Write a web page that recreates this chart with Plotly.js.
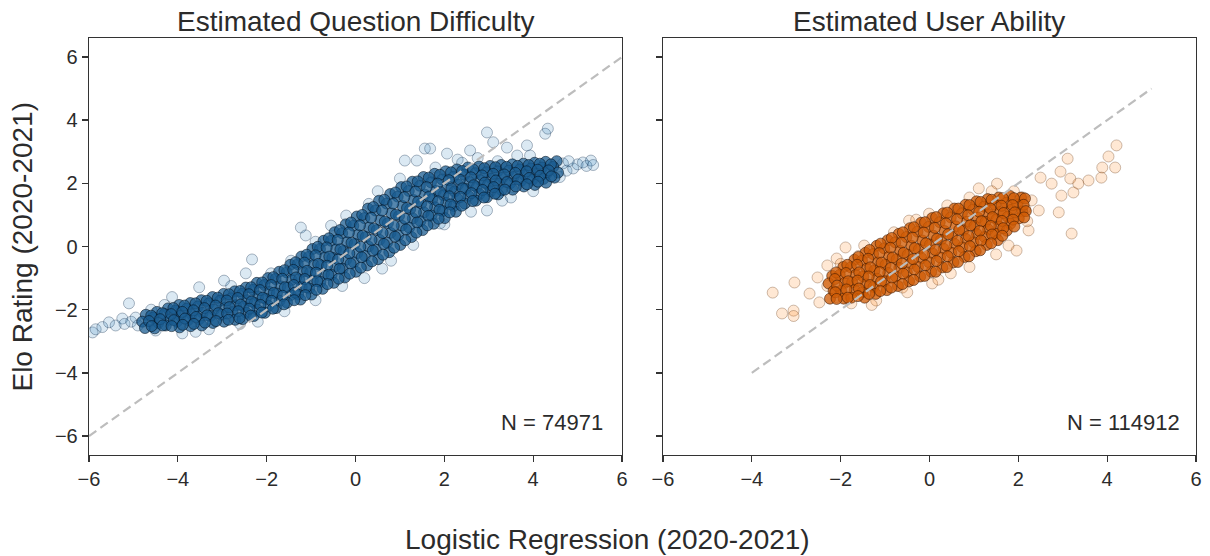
<!DOCTYPE html>
<html>
<head>
<meta charset="utf-8">
<script src="https://cdn.plot.ly/plotly-3.0.1.min.js"></script>
<style>html,body{margin:0;padding:0;background:#fff}#chart{width:1210px;height:556px}</style>
</head>
<body>
<div id="chart"></div>
<script>
// ---- Data ----
var panelTitles = ["Estimated Question Difficulty", "Estimated User Ability"];
var nLabels = ["N = 74971", "N = 114912"];
var xTitle = "Logistic Regression (2020-2021)";
var yTitle = "Elo Rating (2020-2021)";
var tickVals = [-6, -4, -2, 0, 2, 4, 6];

// Question difficulty: dense band (sampled, first set of columns)
var qCoreX = [
 -4.72,-4.8,-4.74,
 -4.47,-4.55,-4.44,-4.52,
 -4.22,-4.3,-4.19,-4.27,
 -3.97,-4.05,-3.94,-4.02,-3.96,
 -3.72,-3.8,-3.69,-3.77,-3.71,
 -3.47,-3.55,-3.44,-3.52,-3.46,
 -3.22,-3.3,-3.19,-3.27,-3.21,
 -2.97,-3.05,-2.94,-3.02,-2.96,
 -2.72,-2.8,-2.69,-2.77,-2.71,
 -2.47,-2.55,-2.44,-2.52,-2.46,-2.54,
 -2.22,-2.3,-2.19,-2.27,-2.21,-2.29,
 -1.97,-2.05,-1.94,-2.02,-1.96,-2.04,
 -1.72,-1.8,-1.69,-1.77,-1.71,-1.79,
 -1.47,-1.55,-1.44,-1.52,-1.46,-1.54,
 -1.22,-1.3,-1.19,-1.27,-1.21,-1.29,-1.24,
 -0.97,-1.05,-0.94,-1.02,-0.96,-1.04,-0.99,
 -0.72,-0.8,-0.69,-0.77,-0.71,-0.79,-0.74,
 -0.47,-0.55,-0.44,-0.52,-0.46,-0.54,-0.49,
 -0.22,-0.3,-0.19,-0.27,-0.21,-0.29,-0.24,
 0.03,-0.05,0.06,-0.02,0.04,-0.04,0.01,
 0.28,0.2,0.31,0.23,0.29,0.21,0.26,
 0.53,0.45,0.56,0.48,0.54,0.46,0.51,
 0.78,0.7,0.81,0.73,0.79,0.71,0.76,
 1.03,0.95,1.06,0.98,1.04,0.96,1.01,
 1.28,1.2,1.31,1.23,1.29,1.21,1.26,
 1.53,1.45,1.56,1.48,1.54,1.46,1.51,
 1.78,1.7,1.81,1.73,1.79,1.71,1.76,
 2.03,1.95,2.06,1.98,2.04,1.96,2.01,
 2.28,2.2,2.31,2.23,2.29,2.21,2.26,
 2.53,2.45,2.56,2.48,2.54,2.46,
 2.78,2.7,2.81,2.73,2.79,2.71,
 3.03,2.95,3.06,2.98,3.04,2.96,
 3.28,3.2,3.31,3.23,3.29,3.21,
 3.53,3.45,3.56,3.48,3.54,
 3.78,3.7,3.81,3.73,3.79,
 4.03,3.95,4.06,3.98,4.04,
 4.28,4.2,4.31,4.23,4.29,
 4.53,4.45,4.56,4.48
];
var qCoreY = [
 -2.16,-2.38,-2.58,
 -2.07,-2.25,-2.42,-2.59,
 -1.96,-2.14,-2.32,-2.5,
 -1.85,-2.03,-2.2,-2.38,-2.56,
 -1.79,-1.97,-2.15,-2.33,-2.52,
 -1.7,-1.9,-2.1,-2.3,-2.5,
 -1.6,-1.8,-2.0,-2.2,-2.42,
 -1.5,-1.72,-1.94,-2.16,-2.38,
 -1.42,-1.64,-1.86,-2.08,-2.32,
 -1.3,-1.5,-1.7,-1.9,-2.1,-2.3,
 -1.15,-1.37,-1.58,-1.79,-2.0,-2.2,
 -1.0,-1.22,-1.44,-1.66,-1.88,-2.1,
 -0.8,-1.03,-1.26,-1.49,-1.72,-1.95,
 -0.58,-0.82,-1.06,-1.3,-1.54,-1.78,
 -0.32,-0.56,-0.8,-1.04,-1.28,-1.52,-1.68,
 -0.08,-0.33,-0.58,-0.83,-1.08,-1.33,-1.52,
 0.18,-0.08,-0.34,-0.6,-0.86,-1.12,-1.34,
 0.45,0.18,-0.09,-0.36,-0.63,-0.9,-1.15,
 0.7,0.42,0.14,-0.14,-0.42,-0.7,-0.98,
 0.95,0.66,0.37,0.08,-0.21,-0.5,-0.8,
 1.2,0.9,0.6,0.3,0.0,-0.3,-0.6,
 1.45,1.14,0.83,0.52,0.21,-0.1,-0.4,
 1.66,1.36,1.05,0.74,0.43,0.12,-0.18,
 1.88,1.58,1.28,0.97,0.66,0.35,0.05,
 2.05,1.76,1.47,1.18,0.89,0.6,0.3,
 2.2,1.92,1.64,1.36,1.08,0.8,0.52,
 2.3,2.03,1.76,1.5,1.24,0.98,0.72,
 2.38,2.12,1.86,1.62,1.38,1.12,0.9,
 2.44,2.2,1.96,1.74,1.52,1.28,1.1,
 2.5,2.27,2.04,1.82,1.6,1.36,
 2.53,2.32,2.1,1.88,1.66,1.45,
 2.55,2.35,2.15,1.95,1.75,1.56,
 2.58,2.38,2.18,1.98,1.78,1.65,
 2.6,2.4,2.2,2.0,1.8,
 2.62,2.44,2.26,2.08,1.9,
 2.65,2.47,2.29,2.11,1.95,
 2.68,2.5,2.32,2.14,2.02,
 2.7,2.52,2.34,2.18
];
// Question difficulty: dense band (sampled, in-between columns)
var qFillX = [
 -4.6,-4.65,-4.59,
 -4.35,-4.4,-4.34,
 -4.1,-4.15,-4.09,-4.14,
 -3.85,-3.9,-3.84,-3.89,
 -3.6,-3.65,-3.59,-3.64,
 -3.35,-3.4,-3.34,-3.39,
 -3.1,-3.15,-3.09,-3.14,
 -2.85,-2.9,-2.84,-2.89,-2.86,
 -2.6,-2.65,-2.59,-2.64,-2.61,
 -2.35,-2.4,-2.34,-2.39,-2.36,
 -2.1,-2.15,-2.09,-2.14,-2.11,
 -1.85,-1.9,-1.84,-1.89,-1.86,
 -1.6,-1.65,-1.59,-1.64,-1.61,
 -1.35,-1.4,-1.34,-1.39,-1.36,-1.38,
 -1.1,-1.15,-1.09,-1.14,-1.11,-1.13,
 -0.85,-0.9,-0.84,-0.89,-0.86,-0.88,
 -0.6,-0.65,-0.59,-0.64,-0.61,-0.63,
 -0.35,-0.4,-0.34,-0.39,-0.36,-0.38,
 -0.1,-0.15,-0.09,-0.14,-0.11,-0.13,
 0.15,0.1,0.16,0.11,0.14,0.12,
 0.4,0.35,0.41,0.36,0.39,0.37,
 0.65,0.6,0.66,0.61,0.64,0.62,
 0.9,0.85,0.91,0.86,0.89,0.87,
 1.15,1.1,1.16,1.11,1.14,1.12,
 1.4,1.35,1.41,1.36,1.39,1.37,
 1.65,1.6,1.66,1.61,1.64,1.62,
 1.9,1.85,1.91,1.86,1.89,1.87,
 2.15,2.1,2.16,2.11,2.14,2.12,
 2.4,2.35,2.41,2.36,2.39,
 2.65,2.6,2.66,2.61,2.64,
 2.9,2.85,2.91,2.86,2.89,
 3.15,3.1,3.16,3.11,3.14,
 3.4,3.35,3.41,3.36,
 3.65,3.6,3.66,3.61,
 3.9,3.85,3.91,3.86,
 4.15,4.1,4.16,4.11,
 4.4,4.35,4.41
];
var qFillY = [
 -2.19,-2.36,-2.52,
 -2.11,-2.3,-2.5,
 -1.95,-2.14,-2.33,-2.52,
 -1.87,-2.07,-2.28,-2.48,
 -1.8,-2.02,-2.23,-2.45,
 -1.72,-1.95,-2.18,-2.41,
 -1.62,-1.87,-2.11,-2.36,
 -1.51,-1.71,-1.92,-2.12,-2.32,
 -1.41,-1.63,-1.84,-2.05,-2.27,
 -1.29,-1.51,-1.74,-1.97,-2.19,
 -1.14,-1.38,-1.62,-1.85,-2.09,
 -0.97,-1.22,-1.47,-1.72,-1.97,
 -0.75,-1.02,-1.29,-1.56,-1.83,
 -0.5,-0.74,-0.98,-1.22,-1.46,-1.7,
 -0.26,-0.51,-0.77,-1.03,-1.29,-1.54,
 -0.01,-0.28,-0.55,-0.83,-1.1,-1.37,
 0.26,-0.03,-0.32,-0.61,-0.9,-1.19,
 0.52,0.21,-0.09,-0.41,-0.71,-1.02,
 0.76,0.44,0.12,-0.22,-0.54,-0.86,
 1.0,0.67,0.34,-0.01,-0.34,-0.67,
 1.25,0.91,0.57,0.21,-0.13,-0.47,
 1.48,1.14,0.79,0.43,0.08,-0.26,
 1.71,1.36,1.01,0.66,0.31,-0.04,
 1.9,1.56,1.22,0.88,0.54,0.2,
 2.06,1.74,1.42,1.08,0.76,0.44,
 2.18,1.88,1.58,1.27,0.97,0.67,
 2.27,1.99,1.72,1.43,1.16,0.88,
 2.35,2.1,1.84,1.59,1.33,1.08,
 2.39,2.11,1.84,1.57,1.29,
 2.44,2.19,1.94,1.69,1.44,
 2.48,2.25,2.02,1.79,1.55,
 2.51,2.3,2.09,1.88,1.67,
 2.52,2.28,2.04,1.8,
 2.55,2.33,2.12,1.9,
 2.58,2.38,2.17,1.97,
 2.62,2.43,2.24,2.05,
 2.6,2.41,2.22
];
// Question difficulty: sparse / outlying points
var qOutX = [-5.92,-5.85,-5.7,-5.55,-5.4,-5.25,-5.2,-5.1,-5.05,-4.95,-4.9,-4.5,-4.13,-3.9,-3.52,-3.3,-2.96,-2.47,-2.33,-2.2,-1.6,-1.23,-1.12,-0.55,-0.21,0.2,0.5,0.8,1.11,1.38,1.56,1.68,1.9,2.06,2.3,2.58,2.75,2.96,2.96,3.1,3.41,3.64,3.86,3.93,3.5,4.27,4.33,4.67,4.75,4.9,5.0,5.12,5.2,5.3,5.35,4.6,4.8,
 -4.6,-4.3,-2.8,-1.9,-1.45,-0.9,0.3,1.0,1.8,2.4,3.2,-0.3,-0.9,0.6,1.3,2.0,2.6,3.3,4.0,-3.6,-2.6];
var qOutY = [-2.72,-2.62,-2.55,-2.4,-2.5,-2.28,-2.45,-1.8,-2.38,-2.25,-2.5,-2.66,-1.6,-2.75,-1.29,-2.62,-1.08,-0.85,-0.41,-2.38,-2.05,0.6,0.35,0.66,0.98,-1.0,1.75,-0.45,2.72,2.72,3.1,3.1,0.73,2.94,2.75,3.04,2.8,3.61,1.14,3.3,3.13,2.88,3.2,2.88,1.55,3.57,3.73,2.63,2.4,2.47,2.6,2.66,2.55,2.72,2.58,2.2,2.7,
 -2.0,-1.85,-1.25,-0.85,-0.45,0.15,1.35,2.15,2.5,2.65,2.7,-1.25,-1.7,-0.7,0.05,0.7,1.1,1.45,1.75,-2.7,-2.45];

// User ability: dense cloud (sampled, first set of columns)
var uCoreX = [
 -2.19,-2.27,-2.16,-2.24,
 -1.94,-2.02,-1.91,-1.99,-1.93,
 -1.69,-1.77,-1.66,-1.74,-1.68,-1.76,
 -1.44,-1.52,-1.41,-1.49,-1.43,-1.51,-1.46,
 -1.19,-1.27,-1.16,-1.24,-1.18,-1.26,-1.21,
 -0.94,-1.02,-0.91,-0.99,-0.93,-1.01,-0.96,
 -0.69,-0.77,-0.66,-0.74,-0.68,-0.76,-0.71,
 -0.44,-0.52,-0.41,-0.49,-0.43,-0.51,-0.46,
 -0.19,-0.27,-0.16,-0.24,-0.18,-0.26,-0.21,
 0.06,-0.02,0.09,0.01,0.07,-0.01,0.04,
 0.31,0.23,0.34,0.26,0.32,0.24,0.29,
 0.56,0.48,0.59,0.51,0.57,0.49,0.54,
 0.81,0.73,0.84,0.76,0.82,0.74,0.79,
 1.06,0.98,1.09,1.01,1.07,0.99,1.04,
 1.31,1.23,1.34,1.26,1.32,1.24,1.29,
 1.56,1.48,1.59,1.51,1.57,1.49,1.54,
 1.81,1.73,1.84,1.76,1.82,1.74,
 2.06,1.98,2.09,2.01
];
var uCoreY = [
 -0.93,-1.17,-1.41,-1.65,
 -0.65,-0.9,-1.15,-1.4,-1.65,
 -0.42,-0.66,-0.9,-1.14,-1.38,-1.62,
 -0.2,-0.45,-0.7,-0.95,-1.2,-1.45,-1.62,
 0.02,-0.24,-0.5,-0.76,-1.02,-1.28,-1.5,
 0.2,-0.06,-0.32,-0.58,-0.84,-1.1,-1.38,
 0.4,0.13,-0.14,-0.41,-0.68,-0.95,-1.25,
 0.58,0.3,0.02,-0.26,-0.54,-0.82,-1.1,
 0.75,0.47,0.19,-0.09,-0.37,-0.65,-0.95,
 0.9,0.62,0.34,0.06,-0.22,-0.5,-0.8,
 1.05,0.77,0.49,0.21,-0.07,-0.35,-0.66,
 1.2,0.92,0.64,0.36,0.08,-0.2,-0.5,
 1.32,1.05,0.78,0.51,0.24,-0.03,-0.33,
 1.43,1.17,0.91,0.65,0.39,0.13,-0.15,
 1.5,1.26,1.02,0.78,0.54,0.3,0.05,
 1.55,1.32,1.09,0.86,0.63,0.4,0.2,
 1.6,1.38,1.16,0.94,0.72,0.5,
 1.55,1.33,1.11,0.89
];
// User ability: dense cloud (sampled, in-between columns)
var uFillX = [
 -2.1,-2.13,-2.08,-2.12,-2.09,
 -1.85,-1.88,-1.83,-1.87,-1.84,
 -1.6,-1.63,-1.58,-1.62,-1.59,-1.61,
 -1.35,-1.38,-1.33,-1.37,-1.34,-1.36,
 -1.1,-1.13,-1.08,-1.12,-1.09,-1.11,
 -0.85,-0.88,-0.83,-0.87,-0.84,-0.86,
 -0.6,-0.63,-0.58,-0.62,-0.59,-0.61,
 -0.35,-0.38,-0.33,-0.37,-0.34,-0.36,
 -0.1,-0.13,-0.08,-0.12,-0.09,-0.11,
 0.15,0.12,0.17,0.13,0.16,0.14,
 0.4,0.37,0.42,0.38,0.41,0.39,
 0.65,0.62,0.67,0.63,0.66,0.64,
 0.9,0.87,0.92,0.88,0.91,0.89,
 1.15,1.12,1.17,1.13,1.16,1.14,
 1.4,1.37,1.42,1.38,1.41,1.39,
 1.65,1.62,1.67,1.63,1.66,1.64,
 1.9,1.87,1.92,1.88,1.91,
 2.15,2.12,2.17,2.13
];
var uFillY = [
 -0.82,-1.03,-1.24,-1.45,-1.66,
 -0.58,-0.84,-1.1,-1.36,-1.62,
 -0.33,-0.58,-0.82,-1.08,-1.33,-1.57,
 -0.11,-0.39,-0.66,-0.95,-1.22,-1.5,
 0.09,-0.21,-0.51,-0.81,-1.11,-1.41,
 0.27,-0.04,-0.35,-0.68,-0.99,-1.3,
 0.45,0.12,-0.2,-0.54,-0.86,-1.19,
 0.61,0.28,-0.05,-0.4,-0.73,-1.06,
 0.77,0.44,0.1,-0.26,-0.6,-0.93,
 0.93,0.59,0.24,-0.11,-0.46,-0.8,
 1.07,0.73,0.39,0.03,-0.31,-0.65,
 1.2,0.86,0.53,0.18,-0.15,-0.49,
 1.31,0.99,0.67,0.33,0.01,-0.31,
 1.41,1.1,0.8,0.49,0.19,-0.12,
 1.48,1.2,0.93,0.65,0.38,0.1,
 1.53,1.29,1.06,0.81,0.58,0.34,
 1.53,1.31,1.08,0.85,0.63,
 1.52,1.32,1.12,0.92
];
// User ability: sparse / outlying points
var uOutX = [-3.53,-3.04,-3.32,-3.06,-3.06,-2.7,-2.52,-2.48,-2.3,-2.09,-1.89,-1.47,-1.2,-1.76,-0.46,-0.01,
 4.21,4.03,3.89,4.18,3.87,3.58,3.11,2.95,3.17,3.35,2.75,2.97,3.24,2.5,2.91,3.2,2.46,2.23,1.96,1.52,1.11,-0.61,0.06,0.48,1.78,2.3,
 -2.0,-1.6,-1.3,-0.8,-0.3,0.4,0.9,1.4,1.9,2.15,2.2,1.5,0.9,0.2,-0.5,-2.3,-2.1,2.1];
var uOutY = [-1.46,-1.14,-2.12,-2.03,-2.2,-1.49,-0.98,-1.77,-0.6,-0.38,-0.03,0.03,-1.71,-1.8,0.82,1.04,
 3.2,2.85,2.5,2.5,2.18,2.09,2.78,2.37,2.15,1.99,1.99,1.61,1.71,2.18,1.08,0.41,1.14,0.51,-0.13,1.99,1.84,-1.3,-1.17,-0.85,0.03,1.46,
 -0.55,-0.3,-1.85,0.45,0.85,1.3,1.55,1.75,1.75,1.2,0.8,-0.25,-0.65,-1.05,-1.45,-1.25,-1.6,1.55];

// Identity reference lines
var diagQX = [-6, 6], diagQY = [-6, 6];
var diagUX = [-4, 5], diagUY = [-4, 5];

// ---- Styling ----
var FONT = "Liberation Sans, Arial, Helvetica, sans-serif";
var TXT = "#2b2b2b";

function pts(x, y, xa, ya, fill, line) {
  return {type: "scatter", mode: "markers", x: x, y: y, xaxis: xa, yaxis: ya,
    hoverinfo: "skip", showlegend: false,
    marker: {size: 11, color: fill, line: {color: line, width: 1}}};
}
function diag(x, y, xa, ya) {
  return {type: "scatter", mode: "lines", x: x, y: y, xaxis: xa, yaxis: ya,
    hoverinfo: "skip", showlegend: false,
    line: {color: "#bdbdbd", width: 2.2, dash: "9px,5px"}};
}

var qFill = "rgba(26,92,145,0.74)", qLine = "rgba(0,15,30,0.55)";
var uFill = "rgba(208,92,6,0.78)", uLine = "rgba(55,20,0,0.55)";

var traces = [
  pts(qOutX, qOutY, "x", "y", "rgba(31,119,180,0.16)", "rgba(20,50,80,0.35)"),
  pts(qCoreX, qCoreY, "x", "y", qFill, qLine),
  pts(qFillX, qFillY, "x", "y", qFill, qLine),
  diag(diagQX, diagQY, "x", "y"),
  pts(uOutX, uOutY, "x2", "y2", "rgba(255,127,14,0.18)", "rgba(90,40,0,0.3)"),
  pts(uCoreX, uCoreY, "x2", "y2", uFill, uLine),
  pts(uFillX, uFillY, "x2", "y2", uFill, uLine),
  diag(diagUX, diagUY, "x2", "y2")
];

function xax(domain, anchor) {
  return {domain: domain, anchor: anchor, range: [-6, 6], tickvals: tickVals,
    ticks: "outside", ticklen: 6, tickwidth: 1.3, tickcolor: "#333",
    showline: true, linecolor: "#333", linewidth: 1.3, mirror: true,
    showgrid: false, zeroline: false, tickfont: {family: FONT, size: 20, color: TXT}};
}
function yax(anchor, labels) {
  return {domain: [0, 1], anchor: anchor, range: [-6.6, 6.6], tickvals: tickVals,
    ticks: "outside", ticklen: 6, tickwidth: 1.3, tickcolor: "#333",
    showline: true, linecolor: "#333", linewidth: 1.3, mirror: true,
    showgrid: false, zeroline: false, showticklabels: labels,
    tickfont: {family: FONT, size: 20, color: TXT}};
}

var layout = {
  width: 1210, height: 556,
  margin: {l: 89, r: 14, t: 38, b: 101},
  paper_bgcolor: "#fff", plot_bgcolor: "#fff",
  font: {family: FONT, color: TXT},
  xaxis: xax([0, 0.4815], "y"),
  yaxis: yax("x", true),
  xaxis2: xax([0.5185, 1.0], "y2"),
  yaxis2: yax("x2", false),
  annotations: [
    {text: panelTitles[0], xref: "paper", yref: "paper", x: 0.2403, y: 1.0384, xanchor: "center", yanchor: "middle", showarrow: false, font: {family: FONT, size: 28, color: TXT}},
    {text: panelTitles[1], xref: "paper", yref: "paper", x: 0.7588, y: 1.0384, xanchor: "center", yanchor: "middle", showarrow: false, font: {family: FONT, size: 28, color: TXT}},
    {text: yTitle, xref: "paper", yref: "paper", x: -0.0605, y: 0.5, xanchor: "center", yanchor: "middle", textangle: -90, showarrow: false, font: {family: FONT, size: 28, color: TXT}},
    {text: xTitle, xref: "paper", yref: "paper", x: 0.468, y: -0.2038, xanchor: "center", yanchor: "middle", showarrow: false, font: {family: FONT, size: 28, color: TXT}},
    {text: nLabels[0], xref: "x domain", yref: "y domain", x: 0.968, y: 0.079, xanchor: "right", yanchor: "middle", showarrow: false, font: {family: FONT, size: 22, color: TXT}},
    {text: nLabels[1], xref: "x2 domain", yref: "y2 domain", x: 0.974, y: 0.079, xanchor: "right", yanchor: "middle", showarrow: false, font: {family: FONT, size: 22, color: TXT}}
  ]
};

Plotly.newPlot("chart", traces, layout, {staticPlot: true, displayModeBar: false});
</script>
</body>
</html>
